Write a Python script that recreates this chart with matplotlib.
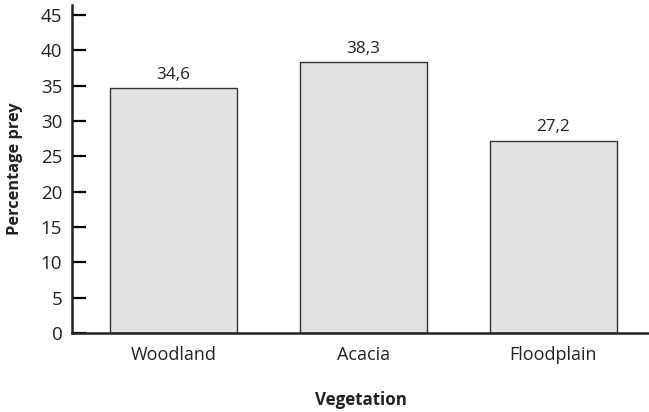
import matplotlib
matplotlib.use("Agg")
import matplotlib.pyplot as plt

categories = ["Woodland", "Acacia", "Floodplain"]
values = [34.6, 38.3, 27.2]
value_labels = ["34,6", "38,3", "27,2"]
yticks = [0, 5, 10, 15, 20, 25, 30, 35, 40, 45]

plt.rcParams['font.family'] = ['Open Sans', 'DejaVu Sans']

fig = plt.figure(figsize=(6.49, 4.12), dpi=100)
ax = fig.add_axes([72/649, 79/412, 1 - 72/649, (333-5)/412])

x = list(range(len(categories)))
bars = ax.bar(x, values, width=0.668, color="#e1e2e4", edgecolor="#333333", linewidth=1.0)
for b, lab in zip(bars, value_labels):
    ax.annotate(lab, (b.get_x() + b.get_width()/2, b.get_height()),
                xytext=(0, 4), textcoords="offset points",
                ha="center", va="bottom", fontsize=12.3, color="#222222")

ax.set_xlim(-0.534, 2.503)
ax.set_ylim(0, 46.4)
ax.set_yticks(yticks)
ax.set_xticks(x)
ax.set_xticklabels(categories, fontsize=13, color="#222222")
ax.tick_params(axis='y', direction='in', length=10, width=1.6, pad=7, labelsize=13.5, labelcolor="#222222")
ax.tick_params(axis='x', length=0, pad=9)
for s in ["top", "right"]:
    ax.spines[s].set_visible(False)
for s in ["left", "bottom"]:
    ax.spines[s].set_linewidth(1.8)
    ax.spines[s].set_color("#222222")

fig.text(15/649, 1 - 169/412, "Percentage prey", rotation=90, ha="center", va="center",
         fontsize=11.8, fontweight="bold", color="#222222")
fig.text(361/649, 1 - 400/412, "Vegetation", ha="center", va="center",
         fontsize=12.2, fontweight="bold", color="#222222")

fig.savefig("out.png", dpi=100)
